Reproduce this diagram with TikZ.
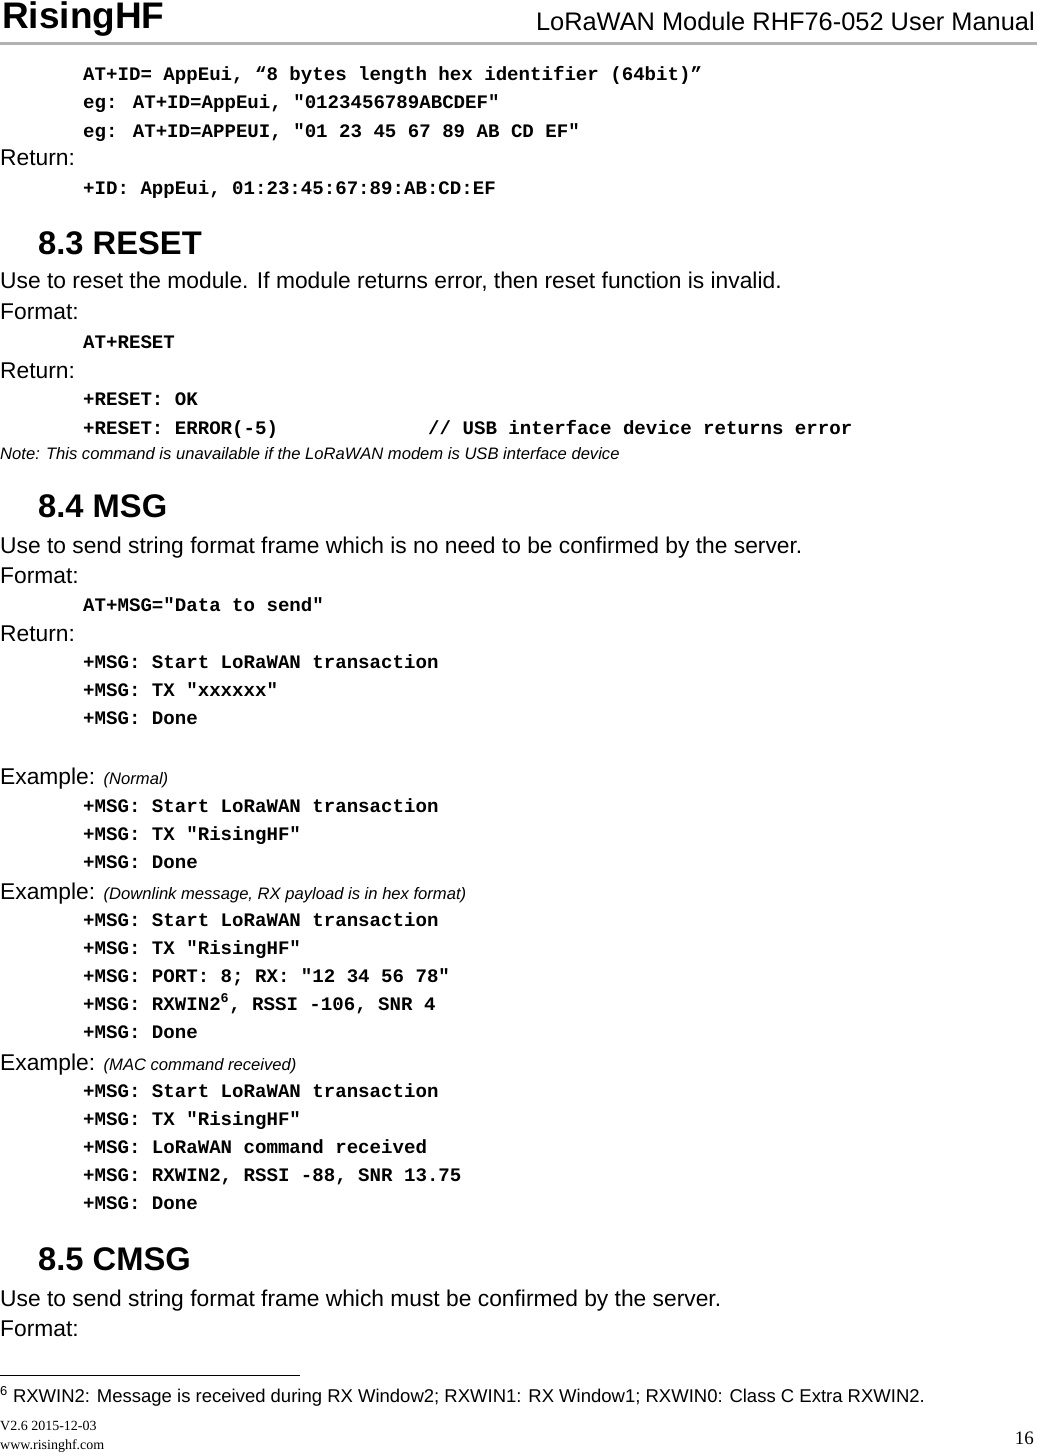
\documentclass[tikz,border=0pt]{standalone}
\usepackage{fontspec}
\setmainfont{Liberation Sans}
\newfontfamily\codef{Liberation Mono}
\newfontfamily\serf{Liberation Serif}
\begin{document}
\begin{tikzpicture}[x=1pt,y=-1pt,
 code/.style={anchor=base west,inner sep=0,font=\codef\bfseries\fontsize{19.1}{22}\selectfont},
 body/.style={anchor=base west,inner sep=0,font=\fontsize{22.8}{26}\selectfont},
 head/.style={anchor=base west,inner sep=0,font=\bfseries\fontsize{32.7}{36}\selectfont},
 small/.style={anchor=base west,inner sep=0,font=\itshape\fontsize{16.6}{19}\selectfont}]
\useasboundingbox (0,0) rectangle (1037,1456);
\node[anchor=base west,inner sep=0,font=\bfseries\fontsize{37}{40}\selectfont] (t) at (2,28) {RisingHF};
\node[anchor=base east,inner sep=0,font=\fontsize{25.4}{28}\selectfont] (t2) at (1035,30) {LoRaWAN Module RHF76-052 User Manual};
\draw[gray!60,line width=3] (0,43) -- (1037,43);
\node[code] (a1) at (83,80) {AT+ID= AppEui, “8 bytes length hex identifier (64bit)”};
\node[code] (a2) at (83,108) {eg: AT+ID=AppEui, "0123456789ABCDEF"};
\node[code] (a3) at (83,137) {eg: AT+ID=APPEUI, "01 23 45 67 89 AB CD EF"};
\node[body] (a4) at (0,165) {Return:};
\node[code] (a5) at (83,194) {+ID: AppEui, 01:23:45:67:89:AB:CD:EF};
\node[head] (h1) at (38,254) {8.3 RESET};
\node[body] (b1) at (0,288) {Use to reset the module. If module returns error, then reset function is invalid.};
\node[body] (b2) at (0,319) {Format:};
\node[code] (b3) at (83,348) {AT+RESET};
\node[body] (b4) at (0,378) {Return:};
\node[code] (b5) at (83,405) {+RESET: OK};
\node[code] (b6) at (83,434) {+RESET: ERROR(-5)};
\node[code] (b7) at (428,434) {// USB interface device returns error};
\node[small] (b8) at (0,459) {Note: This command is unavailable if the LoRaWAN modem is USB interface device};
\node[head] (h2) at (38,517) {8.4 MSG};
\node[body] (c1) at (0,553) {Use to send string format frame which is no need to be confirmed by the server.};
\node[body] (c2) at (0,583) {Format:};
\node[code] (c3) at (83,611) {AT+MSG="Data to send"};
\node[body] (c4) at (0,641) {Return:};
\node[code] (c5) at (83,668) {+MSG: Start LoRaWAN transaction};
\node[code] (c6) at (83,696) {+MSG: TX "xxxxxx"};
\node[code] (c7) at (83,724) {+MSG: Done};
\node[body] (d0) at (0,784) {Example: {\itshape\fontsize{16.6}{19}\selectfont(Normal)}};
\node[code] (d1) at (83,812) {+MSG: Start LoRaWAN transaction};
\node[code] (d2) at (83,840) {+MSG: TX "RisingHF"};
\node[code] (d3) at (83,868) {+MSG: Done};
\node[body] (e0) at (0,899) {Example: {\itshape\fontsize{16.6}{19}\selectfont(Downlink message, RX payload is in hex format)}};
\node[code] (e1) at (83,926) {+MSG: Start LoRaWAN transaction};
\node[code] (e2) at (83,954) {+MSG: TX "RisingHF"};
\node[code] (e3) at (83,982) {+MSG: PORT: 8; RX: "12 34 56 78"};
\node[code] (e4) at (83,1010) {+MSG: RXWIN2\textsuperscript{6}, RSSI -106, SNR 4};
\node[code] (e5) at (83,1038) {+MSG: Done};
\node[body] (f0) at (0,1070) {Example: {\itshape\fontsize{16.6}{19}\selectfont(MAC command received)}};
\node[code] (f1) at (83,1097) {+MSG: Start LoRaWAN transaction};
\node[code] (f2) at (83,1125) {+MSG: TX "RisingHF"};
\node[code] (f3) at (83,1153) {+MSG: LoRaWAN command received};
\node[code] (f4) at (83,1181) {+MSG: RXWIN2, RSSI -88, SNR 13.75};
\node[code] (f5) at (83,1209) {+MSG: Done};
\node[head] (h3) at (38,1270) {8.5 CMSG};
\node[body] (g1) at (0,1306) {Use to send string format frame which must be confirmed by the server.};
\node[body] (g2) at (0,1336) {Format:};
\draw[line width=0.8] (0,1375) -- (300,1375);
\node[anchor=base west,inner sep=0,font=\fontsize{18.5}{21}\selectfont] (fn) at (0,1402) {\textsuperscript{6} RXWIN2: Message is received during RX Window2; RXWIN1: RX Window1; RXWIN0: Class C Extra RXWIN2.};
\node[anchor=base west,inner sep=0,font=\serf\fontsize{14}{16}\selectfont] (v1) at (0,1430) {V2.6 2015-12-03};
\node[anchor=base west,inner sep=0,font=\serf\fontsize{14}{16}\selectfont] (v2) at (0,1449) {www.risinghf.com};
\node[anchor=base east,inner sep=0,font=\serf\fontsize{19}{22}\selectfont] (pg) at (1034,1444) {16};
\end{tikzpicture}
\end{document}
